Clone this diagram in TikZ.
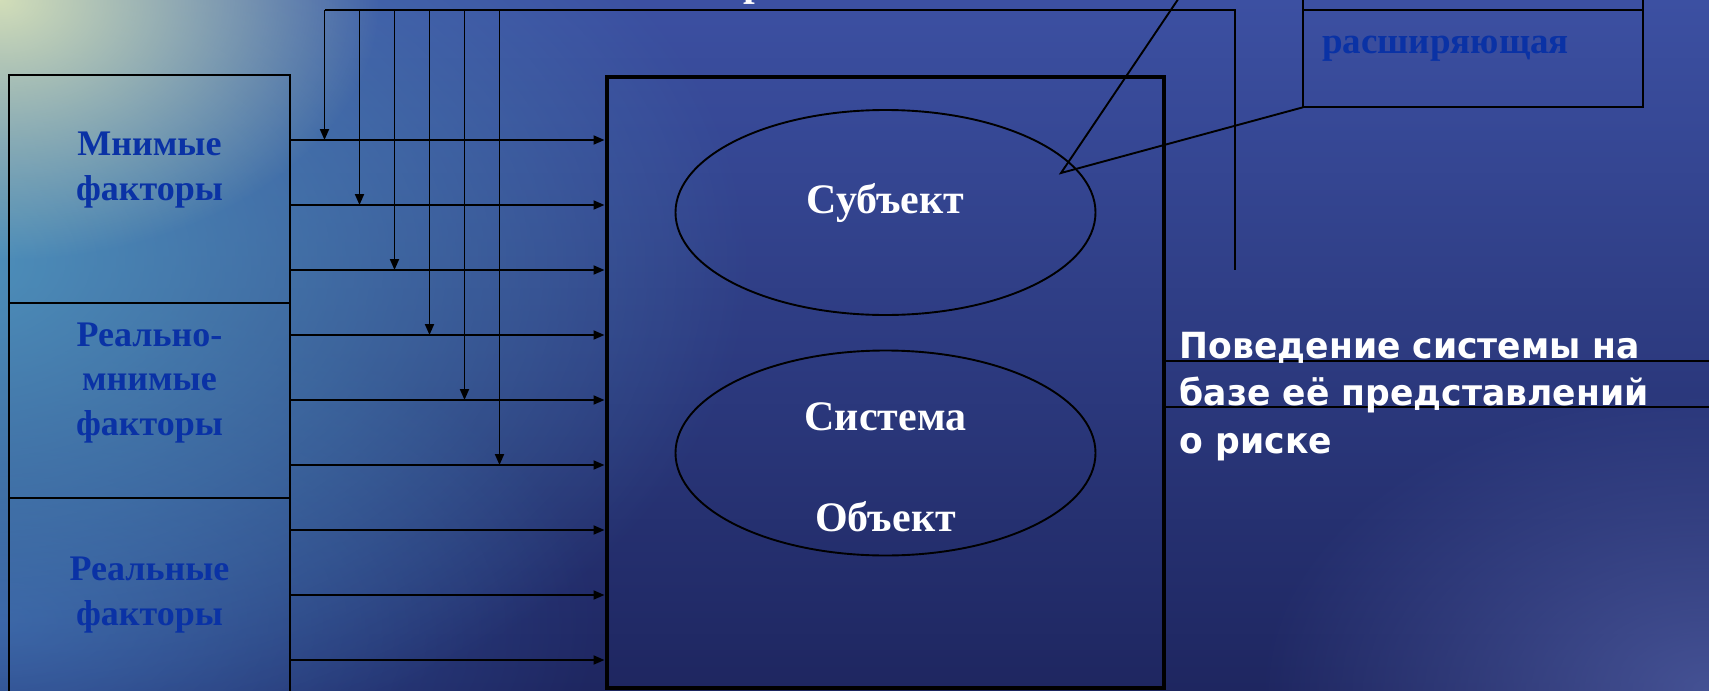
\documentclass[tikz,border=0pt]{standalone}
\usepackage{fontspec}
\setmainfont{Liberation Serif}
\newfontfamily\tah[FakeStretch=0.96]{DejaVu Sans}
\usetikzlibrary{arrows.meta,shapes.geometric,fadings}
\tikzfading[name=softglow, inner color=transparent!0, outer color=transparent!100]
\definecolor{fblue}{RGB}{10,50,165}
\definecolor{bgtop}{RGB}{60,80,162}
\definecolor{bgmid}{RGB}{40,54,128}
\definecolor{bgbot}{RGB}{30,38,96}
\definecolor{tealc}{RGB}{80,150,190}
\definecolor{lowteal}{RGB}{55,90,165}
\definecolor{glow}{RGB}{210,222,185}
\definecolor{brglow}{RGB}{85,100,170}
\begin{document}
\begin{tikzpicture}[x=1pt,y=-1pt,
  thin line/.style={line width=1.9pt},
  arr/.style={thin line,-{Triangle[length=11pt,width=9pt]}},
  cell/.style={draw,thin line,inner sep=0pt,outer sep=0pt},
  ell/.style={draw,thin line,ellipse,minimum width=420pt,minimum height=205pt,inner sep=0pt},
  btxt/.style={text=fblue,font=\fontsize{36}{44.5}\selectfont\bfseries,align=center,inner sep=0pt},
  wtxt/.style={text=white,font=\fontsize{42}{50}\selectfont\bfseries,inner sep=0pt},
  rtxt/.style={text=white,font=\tah\fontsize{36}{47.5}\selectfont\bfseries,align=left,inner sep=0pt}]
\useasboundingbox (0,0) rectangle (1709,691);
% background
\shade[top color=bgtop,middle color=bgmid,bottom color=bgbot] (0,0) rectangle (1709,691);
\fill[lowteal,path fading=softglow,opacity=0.9] (0,620) ellipse [x radius=600,y radius=330];
\fill[tealc,path fading=softglow,opacity=0.95] (-50,260) ellipse [x radius=800,y radius=520];
\fill[glow,path fading=softglow] (0,0) ellipse [x radius=380,y radius=260];
\fill[brglow,path fading=softglow,opacity=0.7] (1709,691) ellipse [x radius=450,y radius=300];
% cut-off title fragment
\node[wtxt,anchor=base] (ttl) at (755,-4.6) {р};
% left column
\node[cell,minimum width=281pt,minimum height=227.4pt] (f1) at (149.5,189) {};
\node[cell,minimum width=281pt,minimum height=195.3pt] (f2) at (149.5,400.35) {};
\node[cell,minimum width=281pt,minimum height=222pt] (f3) at (149.5,609) {};
\node[btxt,anchor=base] (t1) at (149.5,200) {Мнимые\\факторы};
\node[btxt,anchor=base] (t2) at (149.5,435) {Реально-\\мнимые\\факторы};
\node[btxt,anchor=base] (t3) at (149.5,625) {Реальные\\факторы};
% big box
\node[draw,line width=4pt,minimum width=557.5pt,minimum height=611pt,inner sep=0pt] (box) at (885.25,382.5) {};
\node[ell] (e1) at (885.5,212.5) {};
\node[ell] (e2) at (885.5,453) {};
\node[wtxt,anchor=base] (s1) at (885.5,213) {Субъект};
\node[wtxt,anchor=base] (s2) at (885.5,430) {Система};
\node[wtxt,anchor=base] (s3) at (885.5,531.7) {Объект};
% horizontal arrows
\foreach \y in {140,205,270,335,400,465,530,595,660}
  \draw[arr] (f1.east |- 0,\y) -- (box.west |- 0,\y);
% top feedback line
\coordinate (tl) at (324.5,10);
\coordinate (tr) at (1235,10);
\coordinate (tb) at (1235,270);
\draw[thin line] (tl) -- (tr) -- (tb);
\foreach \i in {1,...,6}{
  \pgfmathsetmacro{\xx}{324.5+35*(\i-1)}
  \pgfmathsetmacro{\yy}{140+65*(\i-1)}
  \coordinate (vs\i) at (\xx,10);
  \coordinate (ve\i) at (\xx,\yy);
  \draw[arr] (vs\i) -- (ve\i);
}
% right top box
\node[cell,minimum width=340pt,minimum height=80pt] (r1) at (1473,-30) {};
\node[cell,minimum width=340pt,minimum height=97.3pt] (r2) at (1473,58.65) {};
\node[btxt,anchor=base west,font=\fontsize{37}{44.5}\selectfont\bfseries] (rt) at (1322,53.3) {расширяющая};
% pointer lines
\coordinate (p) at (1061,173);
\coordinate (q) at (1187,-14);
\draw[thin line] (q) -- (p) -- (r2.south west);
% output lines
\coordinate (o1) at (1709,361);
\coordinate (o2) at (1709,406.7);
\draw[thin line] (box.east |- o1) -- (o1);
\draw[thin line] (box.east |- o2) -- (o2);
\node[rtxt,anchor=base west] (beh) at (1179.6,453) {Поведение системы на\\базе её представлений\\о риске};
\end{tikzpicture}
\end{document}
